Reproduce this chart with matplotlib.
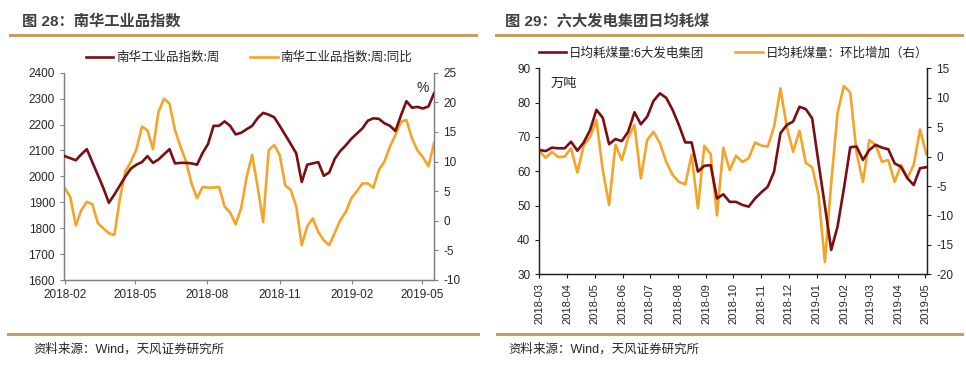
import matplotlib
matplotlib.use("Agg")
import matplotlib.pyplot as plt
import matplotlib.dates as mdates
import numpy as np
import pandas as pd
from matplotlib.lines import Line2D

plt.rcParams['font.family'] = ['Liberation Sans', 'Noto Sans CJK SC']
plt.rcParams['axes.unicode_minus'] = False

# ---------------- data: chart 28 ----------------
nh_dates = pd.date_range('2018-02-01', periods=68, freq='7D')
nh_index = [2078, 2070, 2062, 2085, 2105, 2055, 2005, 1955, 1898, 1930,
            1965, 2000, 2030, 2045, 2055, 2078, 2052, 2065, 2085, 2105,
            2050, 2052, 2052, 2050, 2045, 2090, 2125, 2195, 2195, 2212,
            2195, 2162, 2168, 2182, 2195, 2225, 2245, 2238, 2228, 2195,
            2160, 2125, 2089, 1978, 2045, 2050, 2055, 2002, 2015, 2068,
            2098, 2120, 2145, 2165, 2185, 2215, 2224, 2222, 2205, 2195,
            2175, 2235, 2290, 2265, 2268, 2262, 2270, 2320]
nh_yoy = [5.5, 4.0, -0.8, 1.8, 3.2, 2.8, -0.4, -1.3, -2.1, -2.4,
          3.8, 8.3, 10.0, 12.1, 15.9, 15.3, 12.1, 18.4, 20.6, 19.8,
          15.3, 12.5, 10.0, 6.3, 3.8, 5.7, 5.6, 5.6, 5.7, 2.4,
          1.4, -0.6, 2.1, 7.4, 11.1, 5.7, -0.2, 11.9, 12.8, 11.1,
          6.0, 5.2, 2.4, -4.1, -0.9, 0.4, -1.9, -3.3, -4.1, -2.0,
          0.1, 1.5, 3.8, 5.0, 6.3, 6.3, 5.6, 8.6, 10.0, 12.5,
          14.5, 16.7, 17.0, 13.9, 11.9, 10.7, 9.2, 13.1]
nh_label1 = '南华工业品指数:周'
nh_label2 = '南华工业品指数:周:同比'
nh_title = '图 28：南华工业品指数'

# ---------------- data: chart 29 ----------------
coal_dates = pd.date_range('2018-03-01', periods=62, freq='7D')
coal_daily = [66.2, 65.9, 66.9, 66.7, 66.7, 68.6, 66.0, 68.4, 72.0, 77.9,
              75.6, 67.9, 69.4, 68.8, 71.5, 77.2, 73.7, 75.9, 80.5, 82.7,
              81.4, 77.9, 73.5, 68.4, 68.4, 59.9, 61.6, 61.8, 52.1, 53.3,
              51.1, 51.1, 50.2, 49.7, 52.1, 53.9, 55.5, 59.9, 71.1, 73.5,
              74.5, 78.8, 78.1, 75.4, 62.5, 50.0, 37.1, 43.9, 55.0, 67.0,
              67.2, 63.3, 66.2, 67.7, 66.9, 66.4, 62.3, 61.3, 58.0, 56.0,
              60.9, 61.2]
coal_chg = [0.95, -0.2, 0.8, -0.1, 0.0, 1.4, -2.7, 1.9, 3.3, 6.2,
            -2.3, -8.2, 2.0, -0.6, 3.2, 5.4, -3.7, 2.8, 4.2, 2.3,
            -0.9, -3.1, -4.3, -4.7, 0.3, -8.8, 1.85, 0.4, -10.0, 1.5,
            -2.3, 0.15, -0.9, -0.3, 2.4, 1.85, 1.7, 5.1, 11.6, 5.0,
            0.8, 4.4, -1.1, -1.8, -6.5, -17.9, -4.5, 7.4, 12.0, 10.9,
            0.6, -4.3, 2.8, 2.0, -0.9, -0.6, -4.3, -1.4, -3.7, -1.4,
            4.6, 0.4]
coal_label1 = '日均耗煤量:6大发电集团'
coal_label2 = '日均耗煤量：环比增加（右）'
coal_title = '图 29：六大发电集团日均耗煤'

source_text = '资料来源：Wind，天风证券研究所'

RED = '#7A0E12'
ORANGE = '#F5A42A'
TAN = '#C79E62'
TXT = '#262626'
GREY = '#808080'

W, H = 966, 366
fig = plt.figure(figsize=(W / 100, H / 100), dpi=100)
fig.patch.set_facecolor('white')


def ax_rect(x0, y0, x1, y1):
    return [x0 / W, 1 - y1 / H, (x1 - x0) / W, (y1 - y0) / H]


def hline(x0, x1, y, lw=2.2):
    fig.add_artist(Line2D([x0 / W, x1 / W], [1 - y / H, 1 - y / H],
                          color=TAN, lw=lw, transform=fig.transFigure))


def style(ax, spine_color):
    for s in ['top']:
        ax.spines[s].set_visible(False)
    for s in ['left', 'right', 'bottom']:
        ax.spines[s].set_color(spine_color)
        ax.spines[s].set_linewidth(0.9)
    ax.tick_params(axis='both', colors=spine_color, labelcolor=TXT,
                   labelsize=8.5, length=3, width=0.8, direction='out')


# ---------- headers / footers ----------
fig.text(22 / W, 1 - 21 / H, nh_title, fontsize=11, fontweight='bold',
         color='#404040', va='center', ha='left')
fig.text(505 / W, 1 - 21 / H, coal_title, fontsize=11, fontweight='bold',
         color='#404040', va='center', ha='left')
hline(10, 476, 35)
hline(496, 962, 35)
hline(8, 478, 334)
hline(497, 962, 334)
fig.text(33 / W, 1 - 349 / H, source_text, fontsize=9, color=TXT,
         va='center', ha='left')
fig.text(508 / W, 1 - 349 / H, source_text, fontsize=9, color=TXT,
         va='center', ha='left')

# ---------- chart 28 ----------
ax1 = fig.add_axes(ax_rect(64, 72.7, 434, 280))
ax1b = ax1.twinx()
l1, = ax1.plot(nh_dates, nh_index, color=RED, lw=1.9, zorder=3)
l2, = ax1b.plot(nh_dates, nh_yoy, color=ORANGE, lw=1.9)
ax1.set_zorder(ax1b.get_zorder() + 1)
ax1.patch.set_visible(False)
ax1.set_ylim(1600, 2400)
ax1.set_yticks(np.arange(1600, 2401, 100))
ax1b.set_ylim(-10, 25)
ax1b.set_yticks(np.arange(-10, 26, 5))
ax1.set_xlim(nh_dates[0] - pd.Timedelta(days=1), nh_dates[-1])
ax1.xaxis.set_major_locator(mdates.MonthLocator(bymonth=[2, 5, 8, 11]))
ax1.xaxis.set_major_formatter(mdates.DateFormatter('%Y-%m'))
for a in (ax1, ax1b):
    style(a, GREY)
    a.spines['top'].set_visible(False)
ax1.text(0.985, 0.96, '%', transform=ax1.transAxes, ha='right', va='top',
         fontsize=10, color=TXT)
ax1.legend([l1, l2], [nh_label1, nh_label2], loc='lower center',
           bbox_to_anchor=(0.5, 1.0), ncol=2, frameon=False, fontsize=9,
           handlelength=2.2, columnspacing=2.5, handletextpad=0.2,
           borderaxespad=0.3, labelcolor=TXT,
           prop={'family': ['Noto Sans CJK SC'], 'size': 9})

# ---------- chart 29 ----------
ax2 = fig.add_axes(ax_rect(539.3, 68.3, 927.3, 274.3))
ax2b = ax2.twinx()
m1, = ax2.plot(coal_dates, coal_daily, color=RED, lw=1.9, zorder=3)
m2, = ax2b.plot(coal_dates, coal_chg, color=ORANGE, lw=1.9)
ax2.set_zorder(ax2b.get_zorder() + 1)
ax2.patch.set_visible(False)
ax2.set_ylim(30, 90)
ax2.set_yticks(np.arange(30, 91, 10))
ax2b.set_ylim(-20, 15)
ax2b.set_yticks(np.arange(-20, 16, 5))
ax2.set_xlim(coal_dates[0], coal_dates[-1] + pd.Timedelta(days=1))
ax2.xaxis.set_major_locator(mdates.MonthLocator())
ax2.xaxis.set_major_formatter(mdates.DateFormatter('%Y-%m'))
for a in (ax2, ax2b):
    style(a, '#202020')
    a.spines['top'].set_visible(False)
ax2.tick_params(axis='x', labelrotation=90, labelsize=8)
ax2.text(0.03, 0.96, '万吨', transform=ax2.transAxes, ha='left', va='top',
         fontsize=9.5, color=TXT, family=['Noto Sans CJK SC'])
ax2.legend([m1, m2], [coal_label1, coal_label2], loc='lower center',
           bbox_to_anchor=(0.5, 1.0), ncol=2, frameon=False,
           handlelength=2.2, columnspacing=2.5, handletextpad=0.2,
           borderaxespad=0.3, labelcolor=TXT,
           prop={'family': ['Noto Sans CJK SC'], 'size': 9})

fig.savefig('out.png', dpi=100, facecolor='white')
